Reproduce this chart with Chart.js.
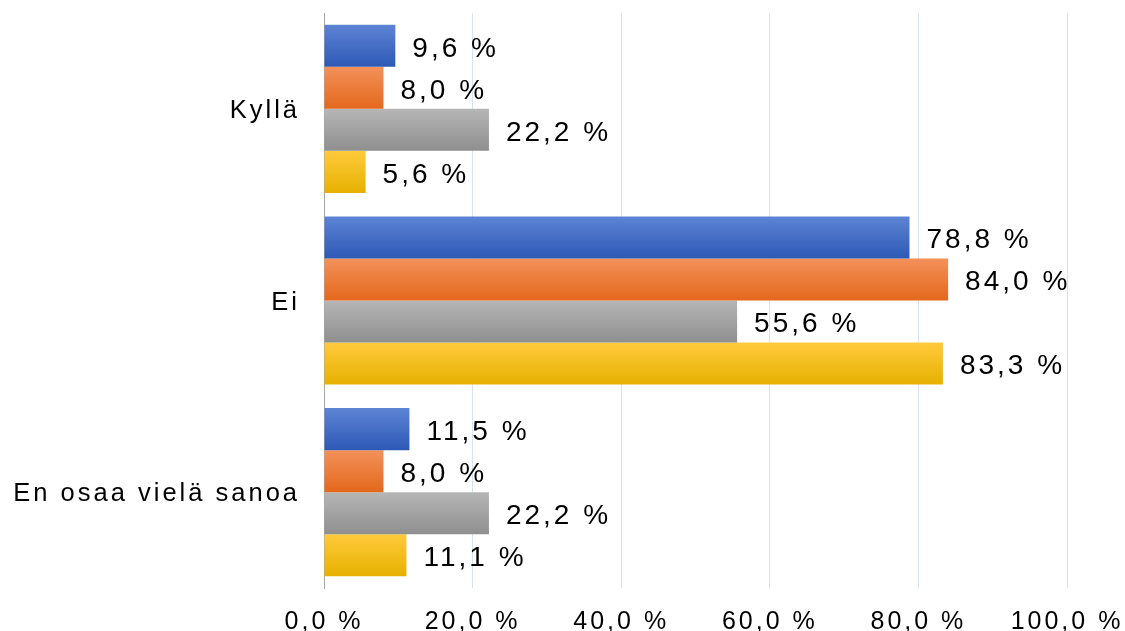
<!DOCTYPE html>
<html>
<head>
<meta charset="utf-8">
<script src="https://cdn.jsdelivr.net/npm/chart.js@4/dist/chart.umd.min.js"></script>
<style>
    body { margin: 0; background: #fff; }
    #wrap { width: 1125px; height: 631px; position: relative; }
</style>
</head>
<body>
<div id="wrap"><canvas id="myChart"></canvas></div>
<script>
const categories = ['Kyllä', 'Ei', 'En osaa vielä sanoa'];
const seriesNames = ['Sarja 1', 'Sarja 2', 'Sarja 3', 'Sarja 4'];
const series1 = [9.6, 78.8, 11.5];
const series2 = [8.0, 84.0, 8.0];
const series3 = [22.2, 55.6, 22.2];
const series4 = [5.6, 83.3, 11.1];
const xTicks = [0, 20, 40, 60, 80, 100];

// gradient top / bottom per series
const colors = [
    ['#5d83d4', '#2d59b6'],
    ['#f3915a', '#e4681c'],
    ['#b6b6b6', '#8f8f8f'],
    ['#ffca3c', '#e6b100']
];

const FONT = '"Liberation Sans", Arial, sans-serif';

function pct(v) {
    return v.toFixed(1).replace('.', ',') + ' %';
}

const spacingPlugin = {
    id: 'spacing',
    beforeLayout(chart) { chart.ctx.letterSpacing = '3px'; },
    beforeDraw(chart) { chart.ctx.letterSpacing = '3px'; }
};

const gradientPlugin = {
    id: 'gradients',
    beforeDatasetsDraw(chart) {
        const ctx = chart.ctx;
        chart.data.datasets.forEach(function (ds, i) {
            chart.getDatasetMeta(i).data.forEach(function (el) {
                const top = el.y - el.height / 2;
                const g = ctx.createLinearGradient(0, top, 0, top + el.height);
                g.addColorStop(0, colors[i][0]);
                g.addColorStop(1, colors[i][1]);
                el.options = Object.assign({}, el.options, { backgroundColor: g });
            });
        });
    }
};

const labelPlugin = {
    id: 'valueLabels',
    afterDatasetsDraw(chart) {
        const ctx = chart.ctx;
        ctx.save();
        ctx.font = '28px ' + FONT;
        ctx.letterSpacing = '3px';
        ctx.fillStyle = '#000';
        ctx.textAlign = 'left';
        ctx.textBaseline = 'middle';
        chart.data.datasets.forEach(function (ds, i) {
            chart.getDatasetMeta(i).data.forEach(function (el, j) {
                ctx.fillText(pct(ds.data[j]), el.x + 17, el.y + 3);
            });
        });
        ctx.restore();
    }
};

const data = {
    labels: categories,
    datasets: [series1, series2, series3, series4].map(function (s, i) {
        return {
            label: seriesNames[i],
            data: s,
            backgroundColor: colors[i][1],
            borderWidth: 0,
            barPercentage: 1.0,
            categoryPercentage: 0.877
        };
    })
};

new Chart(document.getElementById('myChart'), {
    type: 'bar',
    data: data,
    options: {
        indexAxis: 'y',
        responsive: true,
        maintainAspectRatio: false,
        animation: false,
        events: [],
        layout: { padding: { top: 13, right: 58, left: 0, bottom: 0 } },
        plugins: {
            legend: { display: false },
            tooltip: { enabled: false }
        },
        scales: {
            x: {
                min: 0,
                max: 100,
                afterBuildTicks: function (scale) {
                    scale.ticks = xTicks.map(function (v) { return { value: v }; });
                },
                afterFit: function (scale) {
                    scale.height = 43;
                    scale.paddingLeft = 0;
                    scale.paddingRight = 0;
                },
                grid: { color: '#d9e2f3', lineWidth: 1, drawTicks: false },
                border: { display: false },
                ticks: {
                    padding: 19,
                    color: '#000',
                    maxRotation: 0,
                    font: { family: FONT, size: 25 },
                    callback: function (v) { return pct(v); }
                }
            },
            y: {
                afterFit: function (scale) {
                    scale.width = 324;
                    scale.paddingTop = 0;
                    scale.paddingBottom = 0;
                },
                grid: { display: false, drawTicks: false },
                border: { display: true, color: '#a6a6a6', width: 1 },
                ticks: {
                    padding: 24,
                    labelOffset: 2,
                    color: '#000',
                    font: { family: FONT, size: 25.5 }
                }
            }
        }
    },
    plugins: [spacingPlugin, gradientPlugin, labelPlugin]
});
</script>
</body>
</html>
